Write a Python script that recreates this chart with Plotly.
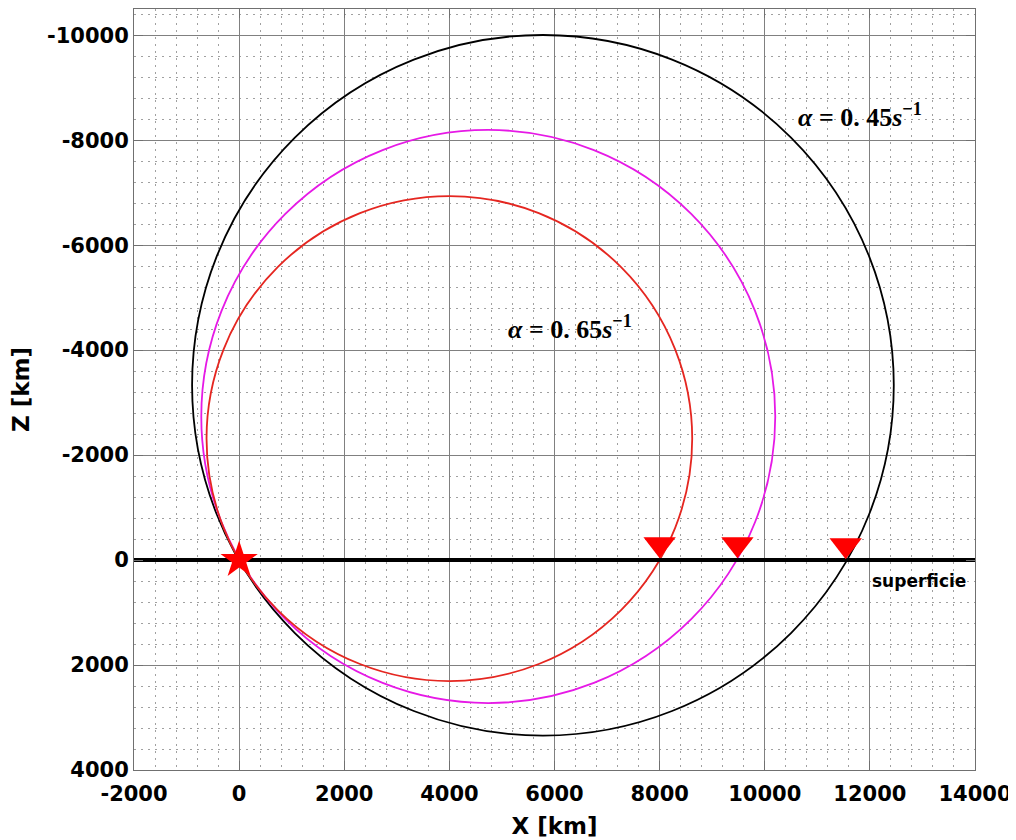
import plotly.graph_objects as go

# ---- data (km) ----
ray_names = ["alpha045", "alpha055", "alpha065"]
ray_colors = ["#000000", "#e619e6", "#e52620"]
circle_cx = [5780, 4740, 4000]
circle_cz = [-3330, -2735, -2315]
circle_r = [6675, 5460, 4620]

source_x = [0]
source_z = [0]

receiver_x = [8000, 9480, 11540]
receiver_z = [-300, -300, -280]

surface_x = [-2000, 14000]
surface_z = [0, 0]

x_ticks = [-2000, 0, 2000, 4000, 6000, 8000, 10000, 12000, 14000]
x_tick_labels = ["-2000", "0", "2000", "4000", "6000", "8000", "10000", "12000", "14000"]
z_ticks = [-10000, -8000, -6000, -4000, -2000, 0, 2000, 4000]
z_tick_labels = ["-10000", "-8000", "-6000", "-4000", "-2000", "0", "2000", "4000"]

label_text = ["<b><i>α</i> = 0. 45<i>s</i><sup>−1</sup></b>", "<b><i>α</i> = 0. 65<i>s</i><sup>−1</sup></b>"]
label_x = [11810, 6300]
label_z = [-8470, -4440]

fig = go.Figure()

# thick surface line
fig.add_trace(go.Scatter(x=surface_x, y=surface_z, mode="lines",
                         line=dict(color="black", width=4), hoverinfo="skip", showlegend=False))

# receivers
fig.add_trace(go.Scatter(x=receiver_x, y=receiver_z, mode="markers",
                         marker=dict(symbol="triangle-down", size=28, color="#ff0000"),
                         showlegend=False))
# source
fig.add_trace(go.Scatter(x=source_x, y=source_z, mode="markers",
                         marker=dict(symbol="star", size=28, color="#ff0000"),
                         showlegend=False))

shapes = []
for cx, cz, r, col in zip(circle_cx, circle_cz, circle_r, ray_colors):
    shapes.append(dict(type="circle", xref="x", yref="y",
                       x0=cx - r, x1=cx + r, y0=cz - r, y1=cz + r,
                       line=dict(color=col, width=1.8), layer="between"))

annotations = []
for t, ax_, az_ in zip(label_text, label_x, label_z):
    annotations.append(dict(x=ax_, y=az_, xref="x", yref="y", text=t, showarrow=False,
                            font=dict(family="Liberation Serif", size=26, color="black")))
annotations.append(dict(x=12000, y=400, xref="x", yref="y", text="<b>superficie</b>",
                        showarrow=False, xanchor="left",
                        font=dict(family="DejaVu Sans", size=17, color="black")))

axis_common = dict(
    showline=True, linecolor="#707070", linewidth=1, mirror="ticks",
    ticks="inside", ticklen=9, tickcolor="#707070", tickwidth=1,
    showgrid=True, gridcolor="#808080", gridwidth=1,
    zeroline=False, automargin=False, ticklabeloverflow="allow",
    tickfont=dict(family="DejaVu Sans", size=21, color="black", weight="bold"),
)

# page body adds an 8px offset at top/left, so the figure is 8px smaller
fig.update_layout(
    width=1008, height=832,
    margin=dict(l=126, r=41, t=1, b=70),
    paper_bgcolor="white", plot_bgcolor="white",
    shapes=shapes, annotations=annotations,
    xaxis=dict(range=[-2000, 14000], tickvals=x_ticks, ticktext=x_tick_labels,
               ticklabelstandoff=5,
               minor=dict(dtick=400, tick0=-2000, showgrid=True, gridcolor="#a0a0a0",
                          griddash="2px,5px", gridwidth=1, ticks=""),
               title=dict(text="<b>X [km]</b>", standoff=12,
                          font=dict(family="DejaVu Sans", size=23, color="black")),
               **axis_common),
    yaxis=dict(range=[4000, -10500], tickvals=z_ticks, ticktext=z_tick_labels,
               minor=dict(dtick=400, tick0=0, showgrid=True, gridcolor="#a0a0a0",
                          griddash="2px,5px", gridwidth=1, ticks=""),
               title=dict(text="<b>Z [km]</b>", standoff=10,
                          font=dict(family="DejaVu Sans", size=23, color="black")),
               **axis_common),
)

fig.write_html("out.html")
